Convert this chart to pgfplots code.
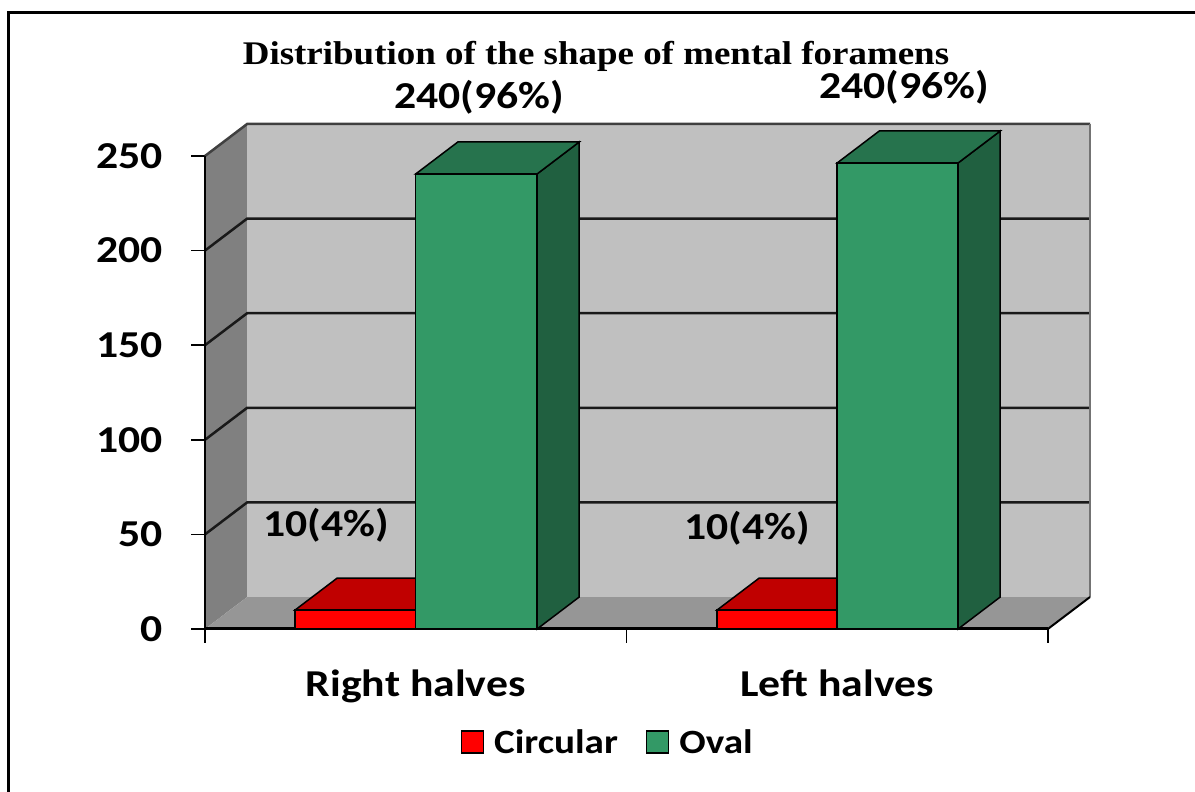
\documentclass[border=0pt]{standalone}
\usepackage{pgfplots}
\pgfplotsset{compat=1.18}
\usepackage{fontspec}
\setmainfont{Carlito}
\newfontfamily\timesfont{Liberation Serif}
\definecolor{wallback}{HTML}{C0C0C0}
\definecolor{wallside}{HTML}{808080}
\definecolor{floorc}{HTML}{969696}
\definecolor{redfront}{HTML}{FF0000}
\definecolor{redtop}{HTML}{C00000}
\definecolor{greenfront}{HTML}{339966}
\definecolor{greentop}{HTML}{26734D}
\definecolor{greenside}{HTML}{206040}
\newcommand{\lbl}[2][38]{\scalebox{1.15}[1]{\fontsize{#1}{#1}\selectfont\bfseries #2}}
\begin{document}
\begin{tikzpicture}
\path[use as bounding box] (0,0) rectangle (1195pt,792pt);
\draw[line width=3pt] (8pt,-2pt) -- (8pt,779pt) -- (1197pt,779pt);
\begin{axis}[
  at={(205pt,163pt)}, anchor=south west,
  scale only axis, width=885pt, height=505pt,
  xmin=0, xmax=2.1, ymin=0, ymax=266.9,
  clip=false,
  axis x line*=bottom, axis y line*=left,
  axis line style={draw=none,-},
  tick align=outside, major tick length=14pt,
  tick style={black, line width=1.5pt},
  xtick={0,1,2}, xticklabels={},
  ytick={0,50,100,150,200,250},
  yticklabels={\lbl{0},\lbl{50},\lbl{100},\lbl{150},\lbl{200},\lbl{250}},
  yticklabel style={anchor=east, inner sep=0pt, xshift=-28pt},
  legend style={at={(0.455,-0.224)}, anchor=center, draw=none, fill=none,
    legend columns=2,
    /tikz/every odd column/.append style={column sep=8pt},
    /tikz/every even column/.append style={column sep=26pt}},
  legend image code/.code={\draw[#1, line width=1.5pt] (0pt,-11pt) rectangle (22pt,11pt);},
]
% walls and floor
\addplot[fill=wallside, draw=none, forget plot] coordinates {(0,0) (0,250) (0.1,266.9) (0.1,16.9)} --cycle;
\addplot[fill=wallback, draw=none, forget plot] coordinates {(0.1,16.9) (2.1,16.9) (2.1,266.9) (0.1,266.9)} --cycle;
\addplot[fill=floorc, draw=none, forget plot] coordinates {(0,0) (2,0) (2.1,16.9) (0.1,16.9)} --cycle;
% gridlines
\addplot[black!90, line width=2.5pt, forget plot] coordinates {(0,50) (0.1,66.9) (2.1,66.9)};
\addplot[black!90, line width=2.5pt, forget plot] coordinates {(0,100) (0.1,116.9) (2.1,116.9)};
\addplot[black!90, line width=2.5pt, forget plot] coordinates {(0,150) (0.1,166.9) (2.1,166.9)};
\addplot[black!90, line width=2.5pt, forget plot] coordinates {(0,200) (0.1,216.9) (2.1,216.9)};
\addplot[black!75, line width=2.5pt, forget plot] coordinates {(0,250) (0.1,266.9) (2.1,266.9)};
\addplot[black!55, line width=2pt, forget plot] coordinates {(2.1,266.9) (2.1,16.9)};
% axis edges
\addplot[black, line width=2pt, forget plot] coordinates {(0,0) (0,250)};
\addplot[black, line width=2pt, forget plot] coordinates {(2,0) (2.1,16.9)};
\addplot[black, line width=3pt, forget plot] coordinates {(0,0) (2,0)};
% Right halves: Circular (10)
\addplot[fill=redtop, draw=black, line width=1.5pt, forget plot] coordinates {(0.2136,10) (0.5,10) (0.6,26.9) (0.3136,26.9)} --cycle;
\addplot[fill=redfront, draw=black, line width=1.5pt, forget plot] coordinates {(0.2136,0) (0.5,0) (0.5,10) (0.2136,10)} --cycle;
% Right halves: Oval (240.5)
\addplot[fill=greenside, draw=black, line width=1.5pt, forget plot] coordinates {(0.788,0) (0.888,16.9) (0.888,257.4) (0.788,240.5)} --cycle;
\addplot[fill=greentop, draw=black, line width=1.5pt, forget plot] coordinates {(0.5,240.5) (0.788,240.5) (0.888,257.4) (0.6,257.4)} --cycle;
\addplot[fill=greenfront, draw=black, line width=1.5pt, forget plot] coordinates {(0.5,0) (0.788,0) (0.788,240.5) (0.5,240.5)} --cycle;
% Left halves: Circular (10)
\addplot[fill=redtop, draw=black, line width=1.5pt, forget plot] coordinates {(1.215,10) (1.5,10) (1.6,26.9) (1.315,26.9)} --cycle;
\addplot[fill=redfront, draw=black, line width=1.5pt, forget plot] coordinates {(1.215,0) (1.5,0) (1.5,10) (1.215,10)} --cycle;
% Left halves: Oval (246.3)
\addplot[fill=greenside, draw=black, line width=1.5pt, forget plot] coordinates {(1.787,0) (1.887,16.9) (1.887,263.2) (1.787,246.3)} --cycle;
\addplot[fill=greentop, draw=black, line width=1.5pt, forget plot] coordinates {(1.5,246.3) (1.787,246.3) (1.887,263.2) (1.6,263.2)} --cycle;
\addplot[fill=greenfront, draw=black, line width=1.5pt, forget plot] coordinates {(1.5,0) (1.787,0) (1.787,246.3) (1.5,246.3)} --cycle;
% legend
\addlegendimage{fill=redfront, draw=black}
\addlegendentry{\lbl[34]{Circular}}
\addlegendimage{fill=greenfront, draw=black}
\addlegendentry{\lbl[34]{Oval}}
% labels
\node at (axis cs:0.650,281.2) {\lbl{240(96\%)}};
\node at (axis cs:1.659,286.5) {\lbl{240(96\%)}};
\node at (axis cs:0.287,55) {\lbl{10(4\%)}};
\node at (axis cs:1.286,53.4) {\lbl{10(4\%)}};
\node[anchor=base, yshift=-68pt] at (axis cs:0.5,0) {\lbl{Right halves}};
\node[anchor=base, yshift=-68pt] at (axis cs:1.5,0) {\lbl{Left halves}};
\end{axis}
\node[anchor=base] at (596pt,727pt) {\scalebox{1.12}[1]{\timesfont\bfseries\fontsize{33}{35}\selectfont Distribution of the shape of mental foramens}};
\end{tikzpicture}
\end{document}
